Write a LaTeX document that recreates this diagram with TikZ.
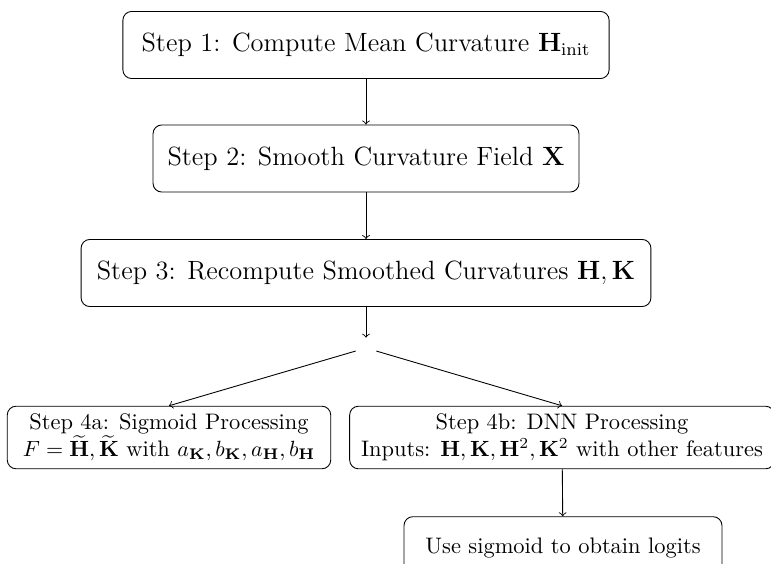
\documentclass[tikz,border=0pt]{standalone}
\usepackage{amsmath}
\begin{document}
\begin{tikzpicture}[x=0.4545pt, y=-0.4545pt,
  bigbox/.style={draw, rounded corners, font=\large, minimum height=30.5pt, inner xsep=4pt},
  smallbox/.style={draw, rounded corners, align=center, minimum height=1cm, inner xsep=4pt, font=\fontsize{10.2pt}{12.2pt}\selectfont},
  flow/.style={->}]
\useasboundingbox (0,0) rectangle (771,564);
\node[bigbox, minimum width=221pt] (s1) at (366,45) {Step 1: Compute Mean Curvature $\mathbf{H}_{\mathrm{init}}$};
\node[bigbox, minimum width=193.6pt] (s2) at (366,158.5) {Step 2: Smooth Curvature Field $\mathbf{X}$};
\node[bigbox, minimum width=259pt] (s3) at (366,273) {Step 3: Recompute Smoothed Curvatures $\mathbf{H}, \mathbf{K}$};
\node[minimum size=9pt, inner sep=0pt] (sp) at (366,348) {};
\node[smallbox, minimum width=147pt] (s4a) at (169,437.5) {Step 4a: Sigmoid Processing\\ $F = \widetilde{\mathbf{H}}, \widetilde{\mathbf{K}}$ with $a_{\mathbf{K}}, b_{\mathbf{K}}, a_{\mathbf{H}}, b_{\mathbf{H}}$};
\node[smallbox, minimum width=193pt] (s4b) at (562,437.5) {Step 4b: DNN Processing\\ Inputs: $\mathbf{H}, \mathbf{K}, \mathbf{H}^2, \mathbf{K}^2$ with other features};
\node[smallbox, minimum width=144.5pt] (s5) at (563,548) {Use sigmoid to obtain logits};
\draw[flow] (s1) -- (s2);
\draw[flow] (s2) -- (s3);
\draw[flow] (s3) -- (sp);
\draw[flow] (sp) -- (s4a.north);
\draw[flow] (sp) -- (s4b.north);
\draw[flow] (s4b) -- (s5);
\end{tikzpicture}
\end{document}
